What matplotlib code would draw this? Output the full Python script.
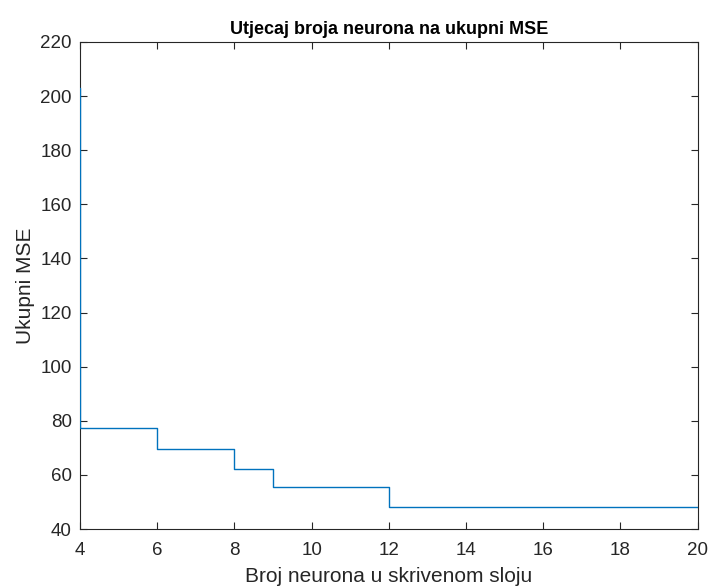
import matplotlib
matplotlib.use("Agg")
import matplotlib.pyplot as plt

# Number of hidden neurons and total MSE (stairs plot, MATLAB style)
neurons = [3, 4, 5, 6, 7, 8, 9, 10, 11, 12, 13, 14, 15, 16, 17, 18, 19, 20]
mse = [203.0, 77.3, 77.3, 69.6, 69.6, 62.2, 55.5, 55.5, 55.5, 48.0,
       48.0, 48.0, 48.0, 48.0, 48.0, 48.0, 48.0, 48.0]

xticks = [4, 6, 8, 10, 12, 14, 16, 18, 20]
yticks = [40, 60, 80, 100, 120, 140, 160, 180, 200, 220]

plt.rcParams["font.family"] = ["Liberation Sans", "DejaVu Sans"]
axcol = "#262626"

fig = plt.figure(figsize=(7.12, 5.88), dpi=100)
ax = fig.add_axes([0.1124, 0.1003, 0.8673, 0.8283])
ax.step(neurons, mse, where="post", color="#0072BD", lw=1.0, zorder=3)

ax.set_xlim(4, 20)
ax.set_ylim(40, 220)
ax.set_xticks(xticks)
ax.set_yticks(yticks)
ax.tick_params(direction="in", top=True, right=True, length=5, width=0.8,
               colors=axcol, labelsize=13.5, pad=6)
ax.tick_params(axis="x", pad=9)
for s in ax.spines.values():
    s.set_color(axcol)
    s.set_linewidth(0.8)

ax.set_title("Utjecaj broja neurona na ukupni MSE", fontsize=13,
             fontweight="bold", color="black", pad=6)
ax.set_xlabel("Broj neurona u skrivenom sloju", fontsize=15, color=axcol, labelpad=6)
ax.set_ylabel("Ukupni MSE", fontsize=15, color=axcol, labelpad=4)

fig.savefig("out.png", dpi=100)
